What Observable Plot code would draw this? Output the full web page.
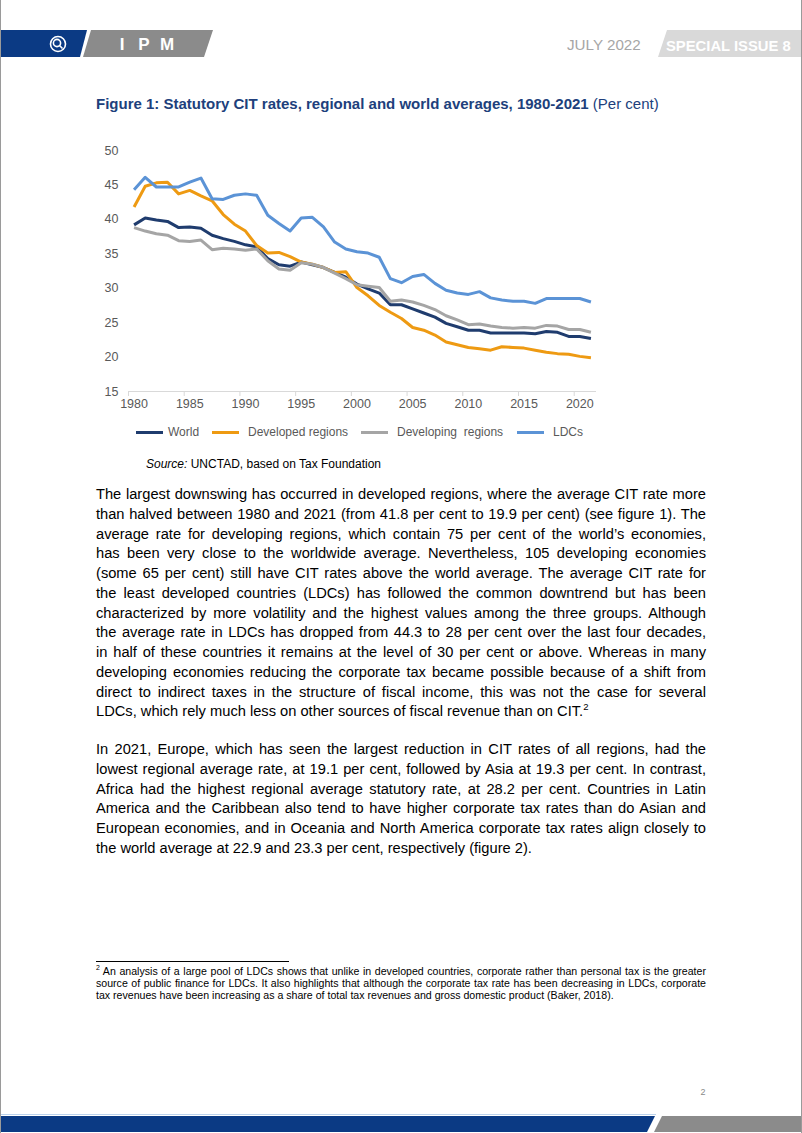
<!DOCTYPE html>
<html><head><meta charset="utf-8">
<script src="https://cdn.jsdelivr.net/npm/d3@7"></script>
<script src="https://cdn.jsdelivr.net/npm/@observablehq/plot@0.6"></script>
<style>
html,body{margin:0;padding:0;background:#fff;}
#page{position:relative;width:802px;height:1133px;overflow:hidden;font-family:"Liberation Sans",Arial,sans-serif;color:#000;}
.abs{position:absolute;white-space:nowrap;}
.p{position:absolute;left:96px;width:610px;font-size:14.67px;line-height:19.75px;}
.p div{text-align:justify;text-align-last:justify;white-space:nowrap;height:19.75px;}
.p div.last{text-align:left;text-align-last:left;}
.fn{position:absolute;left:96px;width:610px;font-size:10.6px;line-height:11.8px;}
.fn div{text-align:justify;text-align-last:justify;white-space:nowrap;}
.fn div.last{text-align:left;text-align-last:left;}
sup{font-size:65%;line-height:0;vertical-align:super;}
.leg{position:absolute;font-size:12px;color:#595959;top:424px;line-height:16px;white-space:pre;}
.sw{position:absolute;height:3px;top:431px;width:27px;}
#chart{position:absolute;left:0;top:140px;}
#frame{position:absolute;left:0;top:0;width:802px;height:1133px;box-sizing:border-box;border-left:1px solid #9a9a9a;border-right:1px solid #9a9a9a;pointer-events:none;}
</style></head>
<body><div id="page">
<svg class="abs" style="left:0;top:0" width="802" height="1133">
  <polygon points="0,30 87,30 80,57 0,57" fill="#0b3a84"/>
  <polygon points="91,30 213,30 204,57 83,57" fill="#8b8b8b"/>
  <g fill="none" stroke="#fff" stroke-width="1.6">
    <circle cx="58" cy="44" r="7.5"/>
    <circle cx="57" cy="43" r="3.6"/>
    <line x1="59.5" y1="45.5" x2="62.5" y2="48.5"/>
  </g>
  <g fill="#fff" font-family="Liberation Sans, Arial, sans-serif" font-weight="bold" font-size="17" text-anchor="middle">
    <text x="122" y="50">I</text><text x="144" y="50">P</text><text x="167" y="50">M</text>
  </g>
  <text x="567" y="50" fill="#a6a6a6" font-family="Liberation Sans, Arial, sans-serif" font-size="15.2">JULY 2022</text>
  <polygon points="667,30 802,30 802,57 658,57" fill="#d9d9d9"/>
  <text x="666" y="50.5" fill="#fff" font-family="Liberation Sans, Arial, sans-serif" font-weight="bold" font-size="14.8">SPECIAL ISSUE 8</text>
  <line x1="0" y1="1114.5" x2="656" y2="1114.5" stroke="#bcd3ec" stroke-width="1"/>
  <polygon points="0,1116 655,1116 647,1132 0,1132" fill="#0b3a84"/>
  <polygon points="662,1116 801,1116 801,1132 654,1132" fill="#8b8b8b"/>
  <text x="703" y="1095" fill="#8a8a8a" font-family="Liberation Sans, Arial, sans-serif" font-size="9" text-anchor="middle">2</text>
</svg>

<div class="abs" style="left:96px;top:95px;font-size:15px;line-height:18px;color:#203f7c;"><b>Figure 1: Statutory CIT rates, regional and world averages, 1980-2021</b> (Per cent)</div>

<div id="chart"></div>

<div class="sw" style="left:136px;background:#1f3c6e"></div><div class="leg" style="left:168px">World</div>
<div class="sw" style="left:212px;background:#ee9a12"></div><div class="leg" style="left:248px">Developed regions</div>
<div class="sw" style="left:361px;background:#a5a5a5"></div><div class="leg" style="left:397px">Developing  regions</div>
<div class="sw" style="left:517px;background:#5b93d6"></div><div class="leg" style="left:553px">LDCs</div>

<div class="abs" style="left:146px;top:457px;font-size:12px;line-height:14px;"><i>Source:</i> UNCTAD, based on Tax Foundation</div>

<div class="p" style="top:485px">
<div>The largest downswing has occurred in developed regions, where the average CIT rate more</div>
<div>than halved between 1980 and 2021 (from 41.8 per cent to 19.9 per cent) (see figure 1). The</div>
<div>average rate for developing regions, which contain 75 per cent of the world’s economies,</div>
<div>has been very close to the worldwide average. Nevertheless, 105 developing economies</div>
<div>(some 65 per cent) still have CIT rates above the world average. The average CIT rate for</div>
<div>the least developed countries (LDCs) has followed the common downtrend but has been</div>
<div>characterized by more volatility and the highest values among the three groups. Although</div>
<div>the average rate in LDCs has dropped from 44.3 to 28 per cent over the last four decades,</div>
<div>in half of these countries it remains at the level of 30 per cent or above. Whereas in many</div>
<div>developing economies reducing the corporate tax became possible because of a shift from</div>
<div>direct to indirect taxes in the structure of fiscal income, this was not the case for several</div>
<div class="last">LDCs, which rely much less on other sources of fiscal revenue than on CIT.<sup>2</sup></div>
</div>

<div class="p" style="top:740px">
<div>In 2021, Europe, which has seen the largest reduction in CIT rates of all regions, had the</div>
<div>lowest regional average rate, at 19.1 per cent, followed by Asia at 19.3 per cent. In contrast,</div>
<div>Africa had the highest regional average statutory rate, at 28.2 per cent. Countries in Latin</div>
<div>America and the Caribbean also tend to have higher corporate tax rates than do Asian and</div>
<div>European economies, and in Oceania and North America corporate tax rates align closely to</div>
<div class="last">the world average at 22.9 and 23.3 per cent, respectively (figure 2).</div>
</div>

<div class="abs" style="left:96px;top:961px;width:193px;height:1px;background:#000"></div>
<div class="fn" style="top:966px">
<div><sup>2</sup> An analysis of a large pool of LDCs shows that unlike in developed countries, corporate rather than personal tax is the greater</div>
<div>source of public finance for LDCs. It also highlights that although the corporate tax rate has been decreasing in LDCs, corporate</div>
<div class="last">tax revenues have been increasing as a share of total tax revenues and gross domestic product (Baker, 2018).</div>
</div>
<div id="frame"></div>
</div>
<script>
const years = d3.range(1980, 2022);
const world = [39.2, 40.2, 39.9, 39.7, 38.8, 38.9, 38.7, 37.7, 37.2, 36.8,
  36.3, 36.0, 34.3, 33.4, 33.2, 33.8, 33.4, 33.0, 32.3, 31.6,
  30.6, 29.9, 29.3, 27.6, 27.6, 27.0, 26.4, 25.8, 24.9, 24.4,
  23.9, 23.9, 23.5, 23.5, 23.5, 23.5, 23.4, 23.7, 23.6, 23.0, 23.0, 22.7];
const developed = [41.8, 44.8, 45.3, 45.4, 43.7, 44.2, 43.4, 42.7, 40.7, 39.3,
  38.3, 36.2, 35.1, 35.2, 34.6, 33.8, 33.5, 33.0, 32.3, 32.4,
  30.1, 28.9, 27.5, 26.5, 25.6, 24.3, 23.9, 23.2, 22.2, 21.8,
  21.4, 21.2, 21.0, 21.5, 21.4, 21.3, 21.0, 20.7, 20.5, 20.4, 20.1, 19.9];
const developing = [38.8, 38.3, 37.9, 37.7, 36.9, 36.8, 37.0, 35.6, 35.8, 35.7,
  35.5, 35.7, 34.0, 32.8, 32.6, 33.7, 33.5, 33.0, 32.2, 31.4,
  30.5, 30.3, 30.1, 28.1, 28.3, 28.0, 27.5, 26.9, 26.0, 25.4,
  24.7, 24.8, 24.5, 24.3, 24.2, 24.3, 24.2, 24.6, 24.5, 24.0, 24.0, 23.6];
const ldcs = [44.3, 46.1, 44.7, 44.7, 44.7, 45.4, 46.0, 43.0, 42.9, 43.5,
  43.7, 43.5, 40.6, 39.4, 38.3, 40.2, 40.3, 38.9, 36.7, 35.7,
  35.3, 35.1, 34.5, 31.4, 30.8, 31.7, 32.0, 30.7, 29.7, 29.3,
  29.1, 29.5, 28.6, 28.3, 28.1, 28.1, 27.8, 28.5, 28.5, 28.5, 28.5, 28.0];
const seriesNames = ["World", "Developed regions", "Developing regions", "LDCs"];
const seriesColors = ["#1f3c6e", "#ee9a12", "#a5a5a5", "#5b93d6"];
const xTickLabels = [1980, 1985, 1990, 1995, 2000, 2005, 2010, 2015, 2020];
const yTicks = [15, 20, 25, 30, 35, 40, 45, 50];

const seriesValues = [world, developed, developing, ldcs];
const rows = seriesNames.flatMap((name, s) => years.map((year, i) => ({year, value: seriesValues[s][i], series: name})));
const boundaries = xTickLabels.map(y => y - 0.5);

const chart = Plot.plot({
  width: 802,
  height: 281,
  marginLeft: 128,
  marginRight: 206,
  marginTop: 10,
  marginBottom: 30,
  style: {fontFamily: "Liberation Sans, Arial, sans-serif", fontSize: "12.5px", color: "#595959", background: "transparent"},
  x: {type: "linear", domain: [1979.5, 2021.5]},
  y: {domain: [15, 50]},
  color: {domain: seriesNames, range: seriesColors},
  marks: [
    Plot.axisY({ticks: yTicks, tickSize: 0, tickPadding: 10, label: null, fill: "#595959"}),
    Plot.axisX({ticks: xTickLabels, tickSize: 0, tickPadding: 8, tickFormat: d => String(d), label: null, fill: "#595959"}),
    Plot.axisX({ticks: boundaries, tickSize: 5, tickFormat: () => "", label: null, stroke: "#d9d9d9"}),
    Plot.ruleY([15], {stroke: "#d9d9d9", strokeWidth: 1}),
    Plot.line(rows, {x: "year", y: "value", z: "series", stroke: "series", strokeWidth: 3, strokeLinejoin: "round", strokeLinecap: "butt"})
  ]
});
document.getElementById("chart").appendChild(chart);
</script>
</body></html>
